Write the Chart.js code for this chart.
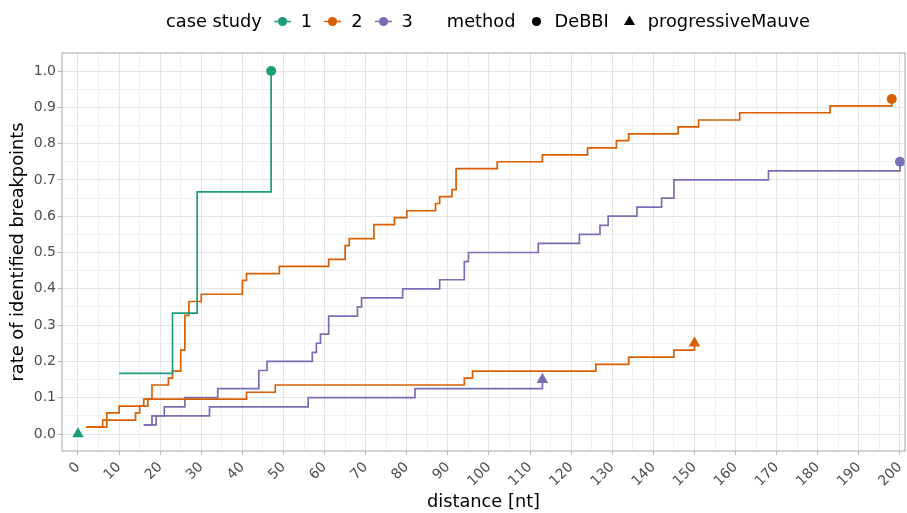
<!DOCTYPE html>
<html lang="en">
<head>
<meta charset="UTF-8">
<title>breakpoints</title>
<style>
  body { margin: 0; background: #fff; font-family: "DejaVu Sans", sans-serif; }
  #wrap { position: relative; width: 907px; height: 513px; }
  #legend { position: absolute; top: 10px; left: 166px; display: flex; align-items: center;
            font-size: 17.8px; line-height: 22px; color: #000; white-space: nowrap; }
  #legend svg { display: block; }
  .key { margin-left: 12px; }
  .lab { margin-left: 10px; }
  .grp { margin-left: 34px; }
  .mkey { margin-left: 12px; }
</style>
</head>
<body>
<div id="wrap">
  <canvas id="chart" width="907" height="513"></canvas>
  <div id="legend"></div>
</div>
<script src="https://cdn.jsdelivr.net/npm/chart.js"></script>
<script>
const xTicks = [0, 10, 20, 30, 40, 50, 60, 70, 80, 90, 100, 110, 120, 130, 140, 150, 160, 170, 180, 190, 200];
const yTicks = [0.0, 0.1, 0.2, 0.3, 0.4, 0.5, 0.6, 0.7, 0.8, 0.9, 1.0];
const caseStudies = ['1', '2', '3'];
const caseColors = ['#1B9E77', '#D95F02', '#7570B3'];
const methods = ['DeBBI', 'progressiveMauve'];
const methodShapes = ['circle', 'triangle'];

// case study 1
const c1DeBBIx = [10, 23, 29, 47];
const c1DeBBIy = [0.167, 0.333, 0.667, 1.0];
const c1MauveX = [0];
const c1MauveY = [0.0];

// case study 2
const c2DeBBIx = [2, 7, 10, 17, 18, 22, 23, 25, 26, 27, 30, 40, 41, 49, 61, 65, 66, 72, 77, 80, 87, 88, 91, 92, 102, 113, 124, 131, 134, 146, 151, 161, 183, 198];
const c2DeBBIy = [0.019, 0.058, 0.077, 0.096, 0.135, 0.154, 0.173, 0.231, 0.327, 0.365, 0.385, 0.423, 0.442, 0.462, 0.481, 0.519, 0.538, 0.577, 0.596, 0.615, 0.635, 0.654, 0.673, 0.731, 0.75, 0.769, 0.788, 0.808, 0.827, 0.846, 0.865, 0.885, 0.904, 0.923];
const c2MauveX = [2, 6, 14, 15, 16, 41, 48, 94, 96, 126, 134, 145, 150];
const c2MauveY = [0.019, 0.038, 0.058, 0.077, 0.096, 0.115, 0.135, 0.154, 0.173, 0.192, 0.212, 0.231, 0.25];

// case study 3
const c3DeBBIx = [16, 18, 21, 26, 34, 44, 46, 57, 58, 59, 61, 68, 69, 79, 88, 94, 95, 112, 122, 127, 129, 136, 142, 145, 168, 200];
const c3DeBBIy = [0.025, 0.05, 0.075, 0.1, 0.125, 0.175, 0.2, 0.225, 0.25, 0.275, 0.325, 0.35, 0.375, 0.4, 0.425, 0.475, 0.5, 0.525, 0.55, 0.575, 0.6, 0.625, 0.65, 0.7, 0.725, 0.75];
const c3MauveX = [16, 19, 32, 56, 82, 113];
const c3MauveY = [0.025, 0.05, 0.075, 0.1, 0.125, 0.15];

const FONT = '"DejaVu Sans", sans-serif';
const majorGrid = '#e4e4e4';
const minorGrid = '#f0f0f0';
const borderGrey = '#b3b3b3';

function series(xs, ys, ci, mi) {
    const last = xs.length - 1;
    const size = methodShapes[mi] === 'triangle' ? 6.7 : 5;
    return {
        label: caseStudies[ci] + ' ' + methods[mi],
        data: xs.map((x, i) => ({ x: x, y: ys[i] })),
        showLine: true,
        stepped: 'before',
        borderColor: caseColors[ci],
        borderWidth: 1.7,
        backgroundColor: caseColors[ci],
        pointStyle: methodShapes[mi],
        pointRadius: ctx => ctx.dataIndex === last ? size : 0,
        pointHoverRadius: 0,
        pointBorderWidth: 0,
        clip: false
    }
}

// major + minor positions (minor halfway between majors)
function withMinor(major) {
    const out = [];
    major.forEach((v, i) => {
        out.push(v);
        if (i < major.length - 1) out.push((v + major[i + 1]) / 2);
    });
    return out;
}

const panelBorder = {
    id: 'panelBorder',
    afterDatasetsDraw(chart) {
        const { ctx, chartArea: a } = chart;
        ctx.save();
        ctx.strokeStyle = borderGrey;
        ctx.lineWidth = 1.2;
        ctx.strokeRect(a.left, a.top, a.right - a.left, a.bottom - a.top);
        ctx.restore();
    }
};

new Chart(document.getElementById('chart'), {
    type: 'scatter',
    data: {
        datasets: [
            series(c1DeBBIx, c1DeBBIy, 0, 0),
            series(c1MauveX, c1MauveY, 0, 1),
            series(c2DeBBIx, c2DeBBIy, 1, 0),
            series(c2MauveX, c2MauveY, 1, 1),
            series(c3DeBBIx, c3DeBBIy, 2, 0),
            series(c3MauveX, c3MauveY, 2, 1)
        ]
    },
    options: {
        responsive: false,
        animation: false,
        devicePixelRatio: 1,
        layout: { autoPadding: false, padding: { top: 53, right: 2, left: 0, bottom: 0 } },
        plugins: { legend: { display: false }, tooltip: { enabled: false } },
        scales: {
            x: {
                type: 'linear', min: -3.89, max: 201.22,
                afterBuildTicks: axis => { axis.ticks = withMinor(xTicks).map(v => ({ value: v })) },
                afterFit: s => { s.height = 62; s.paddingLeft = 0; s.paddingRight = 0 },
                border: { display: false },
                grid: {
                    color: c => xTicks.includes(c.tick.value) ? majorGrid : minorGrid,
                    tickColor: c => xTicks.includes(c.tick.value) ? borderGrey : 'rgba(0,0,0,0)',
                    tickLength: 4,
                    lineWidth: 1
                },
                ticks: {
                    autoSkip: false, minRotation: 45, maxRotation: 45, padding: 4,
                    color: '#4d4d4d', font: { family: FONT, size: 14 },
                    callback: v => xTicks.includes(v) ? String(v) : ''
                },
                title: {
                    display: true, text: 'distance [nt]', color: '#000',
                    font: { family: FONT, size: 17.8 }, padding: { top: -3, bottom: 0 }
                }
            },
            y: {
                type: 'linear', min: -0.0468, max: 1.0496,
                afterBuildTicks: axis => { axis.ticks = withMinor(yTicks).map(v => ({ value: v })) },
                afterFit: s => { s.width = 62; s.paddingTop = 0; s.paddingBottom = 0 },
                border: { display: false },
                grid: {
                    color: c => yTicks.includes(c.tick.value) ? majorGrid : minorGrid,
                    tickColor: c => yTicks.includes(c.tick.value) ? borderGrey : 'rgba(0,0,0,0)',
                    tickLength: 4,
                    lineWidth: 1
                },
                ticks: {
                    autoSkip: false, padding: 2,
                    color: '#4d4d4d', font: { family: FONT, size: 14 },
                    callback: v => yTicks.includes(v) ? v.toFixed(1) : ''
                },
                title: {
                    display: true, text: 'rate of identified breakpoints', color: '#000',
                    font: { family: FONT, size: 17.8 }, padding: { top: 7.5, bottom: 0 }
                }
            }
        }
    },
    plugins: [panelBorder]
});

// legend
const svgNS = 'http://www.w3.org/2000/svg';
function keySvg(color, shape, withLine, cls) {
    const svg = document.createElementNS(svgNS, 'svg');
    svg.setAttribute('width', 17);
    svg.setAttribute('height', 17);
    svg.classList.add(cls);
    if (withLine) {
        const l = document.createElementNS(svgNS, 'line');
        l.setAttribute('x1', 0); l.setAttribute('x2', 17);
        l.setAttribute('y1', 8.5); l.setAttribute('y2', 8.5);
        l.setAttribute('stroke', color); l.setAttribute('stroke-width', 1.5);
        svg.appendChild(l);
    }
    let m;
    if (shape === 'circle') {
        m = document.createElementNS(svgNS, 'circle');
        m.setAttribute('cx', 8.5); m.setAttribute('cy', 8.5); m.setAttribute('r', 4.6);
    } else {
        m = document.createElementNS(svgNS, 'polygon');
        m.setAttribute('points', '8.5,2.5 14,12 3,12');
    }
    m.setAttribute('fill', color);
    svg.appendChild(m);
    return svg;
}
function addText(parent, text, cls) {
    const s = document.createElement('span');
    s.textContent = text;
    if (cls) s.className = cls;
    parent.appendChild(s);
}
const legend = document.getElementById('legend');
addText(legend, 'case study');
caseStudies.forEach((c, i) => {
    legend.appendChild(keySvg(caseColors[i], 'circle', true, 'key'));
    addText(legend, c, 'lab');
});
addText(legend, 'method', 'grp');
methods.forEach((m, i) => {
    legend.appendChild(keySvg('#000', methodShapes[i], false, 'mkey'));
    addText(legend, m, 'lab');
});
</script>
</body>
</html>
